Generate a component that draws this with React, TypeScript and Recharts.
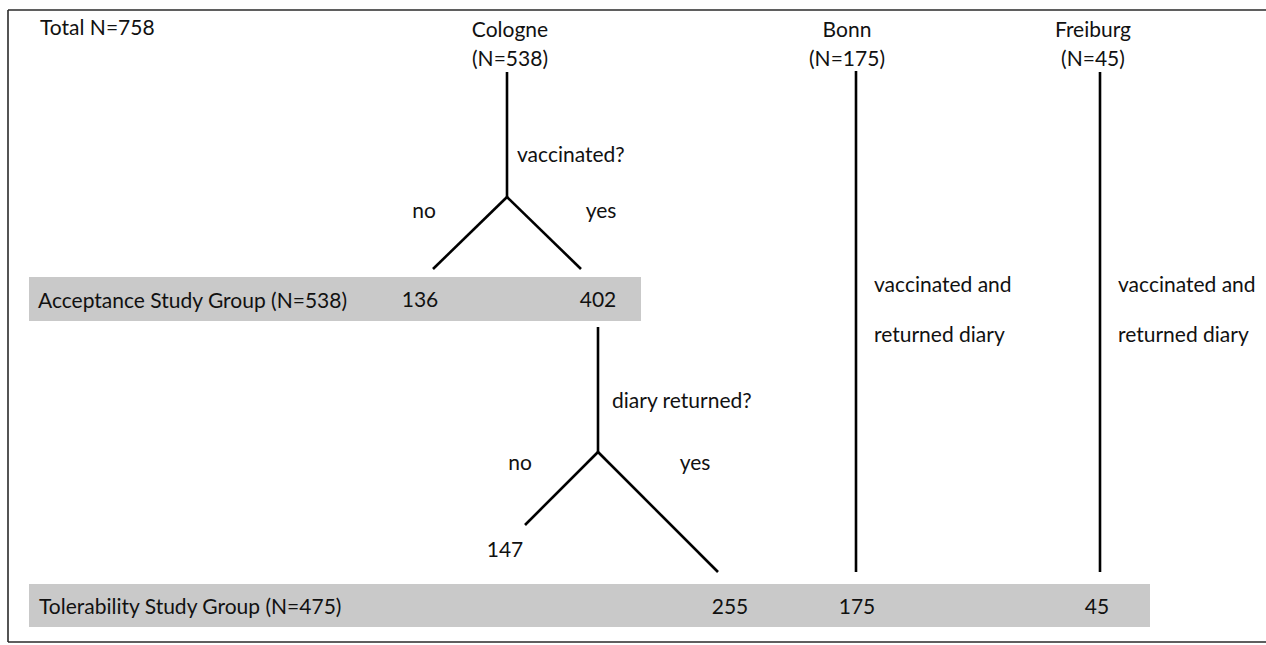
import React from "react";
import { ComposedChart, XAxis, YAxis, Scatter, ReferenceLine, ReferenceArea } from "recharts";

// ---- data ----
const totalN = 758;
const sites = ["Cologne", "Bonn", "Freiburg"];
const siteN = [538, 175, 45];
const branchAnswers = ["no", "yes"];
const vaccinatedSplit = [136, 402]; // Cologne: no / yes
const diarySplit = [147, 255]; // vaccinated Cologne: no / yes diary
const tolerabilityCounts = [255, 175, 45]; // Cologne, Bonn, Freiburg
const acceptanceN = 538;
const tolerabilityN = 475;
const otherSiteNote = ["vaccinated and", "returned diary"];

// ---- layout (diagram units) ----
const W = 1266;
const H = 645;
const siteX = [507, 856, 1100];
const siteLabelShift = [3, -9, -7];
const siteHeadY = [37, 66];
const stemTop = 72;
const branch1 = { x: 507, y: 197, lx: 433, rx: 581, ey: 269 };
const branch2 = { x: 598, top: 327, y: 452, lx: 525, ly: 525, rx: 718, ry: 572 };
const bandAcc = { x1: 29, x2: 641, y1: 277, y2: 321 };
const bandTol = { x1: 29, x2: 1150, y1: 584, y2: 627 };
const longLineBottom = 572;

const FONT = "Lato, 'Open Sans', sans-serif";
const FS = 21;

type Lbl = { x: number; y: number; text: string; anchor: "start" | "middle" | "end" };

const labels: Lbl[] = [
  { x: 40, y: 35, text: `Total N=${totalN}`, anchor: "start" },
  ...sites.flatMap((s, i) => [
    { x: siteX[i] + siteLabelShift[i], y: siteHeadY[0], text: s, anchor: "middle" as const },
    { x: siteX[i] + siteLabelShift[i], y: siteHeadY[1], text: `(N=${siteN[i]})`, anchor: "middle" as const },
  ]),
  { x: 517, y: 162, text: "vaccinated?", anchor: "start" },
  { x: 424, y: 218, text: branchAnswers[0], anchor: "middle" },
  { x: 601, y: 218, text: branchAnswers[1], anchor: "middle" },
  { x: 38, y: 308, text: `Acceptance Study Group (N=${acceptanceN})`, anchor: "start" },
  { x: 420, y: 307, text: String(vaccinatedSplit[0]), anchor: "middle" },
  { x: 598, y: 307, text: String(vaccinatedSplit[1]), anchor: "middle" },
  { x: 612, y: 408, text: "diary returned?", anchor: "start" },
  { x: 520, y: 470, text: branchAnswers[0], anchor: "middle" },
  { x: 695, y: 470, text: branchAnswers[1], anchor: "middle" },
  { x: 505, y: 557, text: String(diarySplit[0]), anchor: "middle" },
  { x: 874, y: 292, text: otherSiteNote[0], anchor: "start" },
  { x: 874, y: 342, text: otherSiteNote[1], anchor: "start" },
  { x: 1118, y: 292, text: otherSiteNote[0], anchor: "start" },
  { x: 1118, y: 342, text: otherSiteNote[1], anchor: "start" },
  { x: 39, y: 614, text: `Tolerability Study Group (N=${tolerabilityN})`, anchor: "start" },
  { x: 730, y: 614, text: String(tolerabilityCounts[0]), anchor: "middle" },
  { x: 857, y: 614, text: String(tolerabilityCounts[1]), anchor: "middle" },
  { x: 1097, y: 614, text: String(tolerabilityCounts[2]), anchor: "middle" },
];

type Seg = [number, number, number, number];
const treeSegments: Seg[] = [
  [branch1.x, stemTop, branch1.x, branch1.y],
  [branch1.x, branch1.y, branch1.lx, branch1.ey],
  [branch1.x, branch1.y, branch1.rx, branch1.ey],
  [branch2.x, branch2.top, branch2.x, branch2.y],
  [branch2.x, branch2.y, branch2.lx, branch2.ly],
  [branch2.x, branch2.y, branch2.rx, branch2.ry],
  [siteX[1], stemTop - 1, siteX[1], longLineBottom],
  [siteX[2], stemTop, siteX[2], longLineBottom],
];

const frameSegments: Seg[] = [
  [8, 10, W, 10],
  [8, 10, 8, 642],
  [8, 642, W, 642],
];

const TextShape = (props: any) => {
  const { cx, cy, payload } = props;
  return (
    <text x={cx} y={cy} textAnchor={payload.anchor} fontSize={FS} fontFamily={FONT} fill="#111">
      {payload.text}
    </text>
  );
};

export default function App() {
  return (
    <div style={{ position: "absolute", left: 0, top: 0 }}>
      <ComposedChart width={W} height={H} margin={{ top: 0, right: 0, bottom: 0, left: 0 }}>
        <XAxis type="number" dataKey="x" domain={[0, W]} hide allowDataOverflow />
        <YAxis type="number" dataKey="y" domain={[0, H]} reversed hide allowDataOverflow />
        <ReferenceArea x1={bandAcc.x1} x2={bandAcc.x2} y1={bandAcc.y1} y2={bandAcc.y2} fill="#c9c9c9" fillOpacity={1} stroke="none" ifOverflow="visible" />
        <ReferenceArea x1={bandTol.x1} x2={bandTol.x2} y1={bandTol.y1} y2={bandTol.y2} fill="#c9c9c9" fillOpacity={1} stroke="none" ifOverflow="visible" />
        {frameSegments.map((s, i) => (
          <ReferenceLine key={"f" + i} segment={[{ x: s[0], y: s[1] }, { x: s[2], y: s[3] }]} stroke="#2a2a2a" strokeWidth={1.6} ifOverflow="visible" />
        ))}
        {treeSegments.map((s, i) => (
          <ReferenceLine key={"t" + i} segment={[{ x: s[0], y: s[1] }, { x: s[2], y: s[3] }]} stroke="#000" strokeWidth={2.6} ifOverflow="visible" />
        ))}
        <Scatter data={labels} shape={TextShape} isAnimationActive={false} />
      </ComposedChart>
    </div>
  );
}
